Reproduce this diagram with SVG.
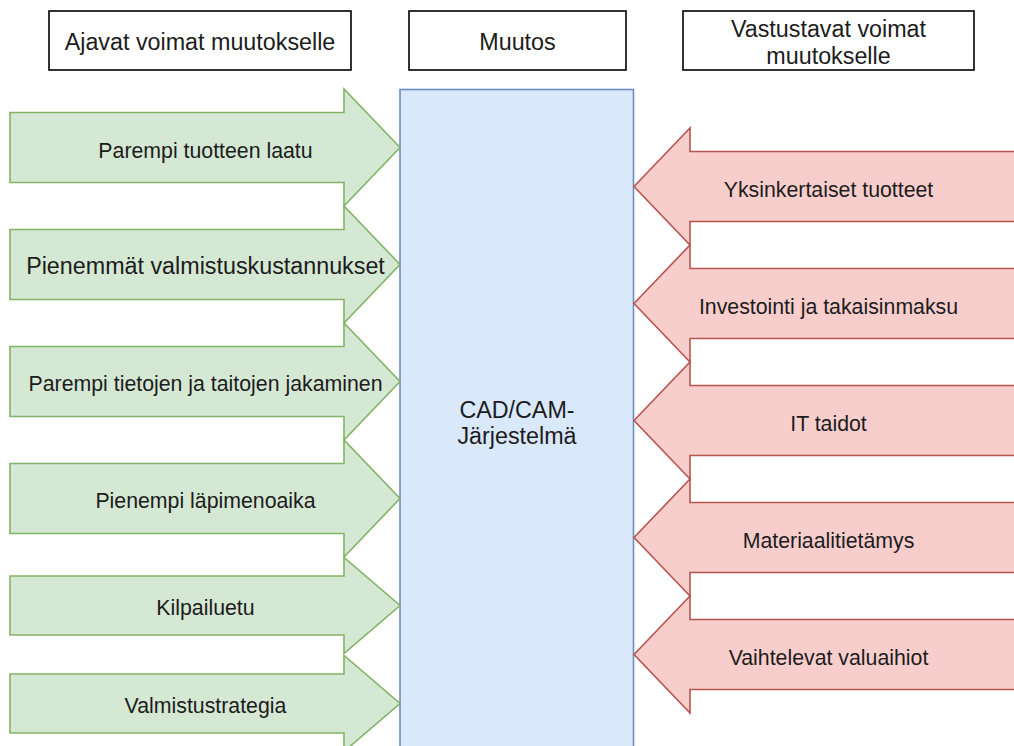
<svg xmlns="http://www.w3.org/2000/svg" width="1014" height="746" viewBox="0 0 1014 746">
  <style>
    text { font-family: "Liberation Sans", Arial, sans-serif; fill: #1c1c1c; text-anchor: middle; }
    .lbl { font-size: 21.3px; }
    .big { font-size: 23.3px; }
    .hdr { fill: #ffffff; stroke: #000000; stroke-width: 1.6; }
    .drive { fill: #d5e8d4; stroke: #82b366; stroke-width: 1.6; stroke-linejoin: miter; }
    .resist { fill: #f8cecc; stroke: #b85450; stroke-width: 1.6; stroke-linejoin: miter; }
    .change { fill: #dae8fc; stroke: #6c8ebf; stroke-width: 1.6; }
  </style>

  <!-- column headers -->
  <g id="hdr-driving">
    <rect class="hdr" x="49" y="11" width="302" height="59"/>
    <text class="big" x="200" y="50">Ajavat voimat muutokselle</text>
  </g>
  <g id="hdr-change">
    <rect class="hdr" x="409" y="11" width="217" height="59"/>
    <text class="big" x="517.5" y="50">Muutos</text>
  </g>
  <g id="hdr-resisting">
    <rect class="hdr" x="683" y="11" width="291" height="59"/>
    <text class="big" x="828.5" y="37">Vastustavat voimat</text>
    <text class="big" x="828.5" y="64">muutokselle</text>
  </g>

  <!-- central change block -->
  <g id="change">
    <rect class="change" x="400" y="89.5" width="233.5" height="680"/>
    <text class="big" x="517" y="418">CAD/CAM-</text>
    <text class="big" x="517" y="444">Järjestelmä</text>
  </g>

  <!-- driving forces (point right) -->
  <g id="drive-1">
    <polygon class="drive" points="10,112.5 344,112.5 344,89 400,147.5 344,206 344,182.5 10,182.5"/>
    <text class="lbl" x="205.5" y="158">Parempi tuotteen laatu</text>
  </g>
  <g id="drive-2">
    <polygon class="drive" points="10,229.5 344,229.5 344,206 400,264.5 344,323 344,299.5 10,299.5"/>
    <text class="big" x="205.5" y="274">Pienemmät valmistuskustannukset</text>
  </g>
  <g id="drive-3">
    <polygon class="drive" points="10,346.5 344,346.5 344,323 400,381.5 344,440 344,416.5 10,416.5"/>
    <text class="lbl" x="205.5" y="391">Parempi tietojen ja taitojen jakaminen</text>
  </g>
  <g id="drive-4">
    <polygon class="drive" points="10,463.5 344,463.5 344,440 400,498.5 344,557 344,533.5 10,533.5"/>
    <text class="lbl" x="205.5" y="508">Pienempi läpimenoaika</text>
  </g>
  <g id="drive-5">
    <polygon class="drive" points="10,576 344,576 344,557.5 400,605.5 344,653.5 344,635 10,635"/>
    <text class="lbl" x="205.5" y="615">Kilpailuetu</text>
  </g>
  <g id="drive-6">
    <polygon class="drive" points="10,674 344,674 344,655.5 400,703.5 344,751.5 344,733 10,733"/>
    <text class="lbl" x="205.5" y="713">Valmistustrategia</text>
  </g>

  <!-- resisting forces (point left) -->
  <g id="resist-1">
    <polygon class="resist" points="1024,151.5 690,151.5 690,128 634,186.5 690,245 690,221.5 1024,221.5"/>
    <text class="lbl" x="828.5" y="196.5">Yksinkertaiset tuotteet</text>
  </g>
  <g id="resist-2">
    <polygon class="resist" points="1024,268.5 690,268.5 690,245 634,303.5 690,362 690,338.5 1024,338.5"/>
    <text class="lbl" x="828.5" y="313.5">Investointi ja takaisinmaksu</text>
  </g>
  <g id="resist-3">
    <polygon class="resist" points="1024,385.5 690,385.5 690,362 634,420.5 690,479 690,455.5 1024,455.5"/>
    <text class="lbl" x="828.5" y="430.5">IT taidot</text>
  </g>
  <g id="resist-4">
    <polygon class="resist" points="1024,502.5 690,502.5 690,479 634,537.5 690,596 690,572.5 1024,572.5"/>
    <text class="lbl" x="828.5" y="547.5">Materiaalitietämys</text>
  </g>
  <g id="resist-5">
    <polygon class="resist" points="1024,619.5 690,619.5 690,596 634,654.5 690,713 690,689.5 1024,689.5"/>
    <text class="lbl" x="828.5" y="664.5">Vaihtelevat valuaihiot</text>
  </g>
</svg>
